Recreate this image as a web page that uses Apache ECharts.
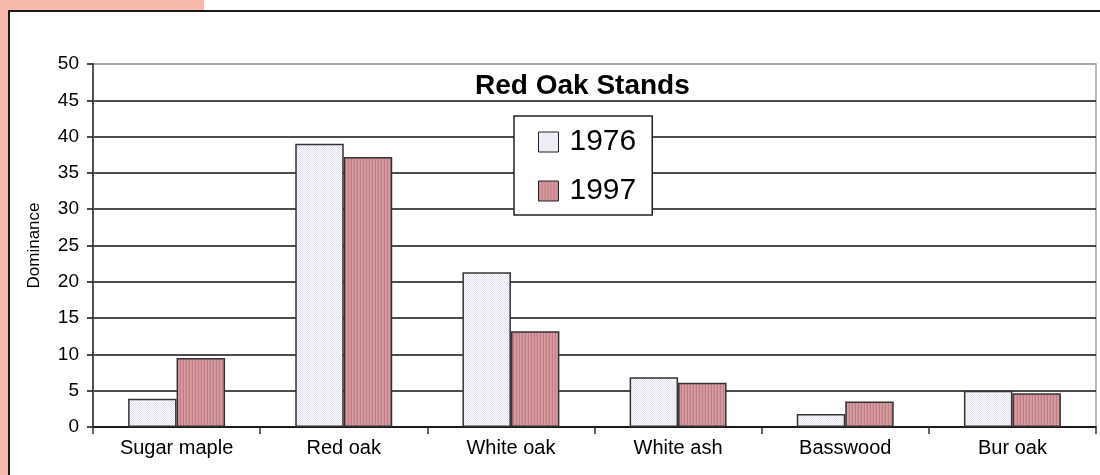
<!DOCTYPE html>
<html>
<head>
<meta charset="utf-8">
<script src="https://cdn.jsdelivr.net/npm/echarts@6/dist/echarts.min.js"></script>
<style>
html,body{margin:0;padding:0;background:#fff;}
#c{width:1100px;height:475px;}
</style>
</head>
<body>
<div id="c"></div>
<script>
const categories = ['Sugar maple', 'Red oak', 'White oak', 'White ash', 'Basswood', 'Bur oak'];
const values1976 = [3.9, 39.0, 21.3, 6.85, 1.8, 5.0];
const values1997 = [9.5, 37.2, 13.2, 6.1, 3.5, 4.65];
const seriesNames = ['1976', '1997'];
const yTicks = [0, 5, 10, 15, 20, 25, 30, 35, 40, 45, 50];

function makePattern(kind) {
  const cv = document.createElement('canvas');
  if (kind === 'dots') {
    cv.width = 2; cv.height = 2;
    const g = cv.getContext('2d');
    g.fillStyle = '#fbfbfe'; g.fillRect(0, 0, 2, 2);
    g.fillStyle = '#e0e0ef'; g.fillRect(0, 0, 1, 1); g.fillRect(1, 1, 1, 1);
  } else {
    cv.width = 3; cv.height = 2;
    const g = cv.getContext('2d');
    g.fillStyle = '#d59ea2'; g.fillRect(0, 0, 3, 2);
    g.fillStyle = '#c27b83'; g.fillRect(0, 0, 1, 2);
    g.fillStyle = '#cc8d92'; g.fillRect(2, 1, 1, 1);
  }
  return { image: cv, repeat: 'repeat' };
}

const chart = echarts.init(document.getElementById('c'), null, { renderer: 'canvas' });
const FONT = '"Liberation Sans", Arial, sans-serif';
const gridColors = yTicks.map((v, i) => i === yTicks.length - 1 ? '#a8a0a0' : '#111');

chart.setOption({
  animation: false,
  textStyle: { fontFamily: FONT },
  graphic: [
    { type: 'rect', z: -10, shape: { x: 0, y: 0, width: 204, height: 475 }, style: { fill: '#f6b9ab' }, silent: true },
    { type: 'rect', z: -9, shape: { x: 9, y: 11, width: 1100, height: 480 }, style: { fill: '#ffffff', stroke: '#1a1a1a', lineWidth: 2 }, silent: true }
  ],
  title: {
    text: 'Red Oak Stands',
    left: 475, top: 72, padding: 0,
    textStyle: { fontFamily: FONT, fontSize: 28, fontWeight: 'bold', color: '#000' }
  },
  legend: {
    data: seriesNames,
    orient: 'vertical',
    left: 514, top: 116,
    padding: [11, 16, 9, 24],
    itemGap: 19,
    itemWidth: 20, itemHeight: 20,
    backgroundColor: '#fff',
    borderColor: '#222', borderWidth: 1.5,
    icon: 'rect',
    itemStyle: { borderColor: '#222', borderWidth: 1 },
    textStyle: { fontFamily: FONT, fontSize: 30, lineHeight: 30, color: '#000', padding: [0, 0, 0, 6] }
  },
  grid: { left: 93, right: 4, top: 64, bottom: 48, show: true, borderColor: '#a8a0a0', borderWidth: 1.5, backgroundColor: 'transparent' },
  xAxis: {
    type: 'category',
    data: categories,
    axisLine: { lineStyle: { color: '#111', width: 1.5 } },
    axisTick: { show: true, length: 7, lineStyle: { color: '#333', width: 1.5 } },
    axisLabel: { fontFamily: FONT, fontSize: 20, color: '#000', margin: 11 },
    splitLine: { show: false }
  },
  yAxis: {
    type: 'value',
    min: 0, max: 50, interval: 5,
    name: 'Dominance',
    nameLocation: 'middle',
    nameRotate: 90,
    nameGap: 50,
    nameTextStyle: { fontFamily: FONT, fontSize: 17, color: '#000' },
    axisLine: { show: true, lineStyle: { color: '#555', width: 2 } },
    axisTick: { show: true, length: 6, lineStyle: { color: '#111', width: 1.5 } },
    axisLabel: { fontFamily: FONT, fontSize: 19, color: '#000', margin: 14 },
    splitLine: { show: true, lineStyle: { color: gridColors, width: 1.5 } }
  },
  series: [
    {
      name: seriesNames[0], type: 'bar', data: values1976,
      barGap: '0%', barCategoryGap: '42%',
      itemStyle: { color: makePattern('dots'), borderColor: '#333', borderWidth: 1.5 }
    },
    {
      name: seriesNames[1], type: 'bar', data: values1997,
      barGap: '0%', barCategoryGap: '42%',
      itemStyle: { color: makePattern('stripes'), borderColor: '#333', borderWidth: 1.5 }
    }
  ]
});
</script>
</body>
</html>
